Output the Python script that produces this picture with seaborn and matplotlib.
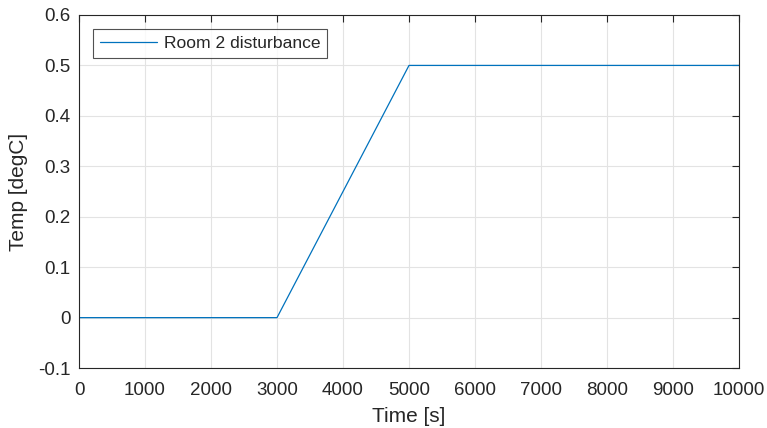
import matplotlib
matplotlib.use("Agg")
import matplotlib.pyplot as plt
import seaborn as sns
import pandas as pd

time_s = [0, 3000, 5000, 10000]
temp_degC = [0.0, 0.0, 0.5, 0.5]
series_name = "Room 2 disturbance"
xticks = [0, 1000, 2000, 3000, 4000, 5000, 6000, 7000, 8000, 9000, 10000]
yticks = [-0.1, 0, 0.1, 0.2, 0.3, 0.4, 0.5, 0.6]
ytick_labels = ["-0.1", "0", "0.1", "0.2", "0.3", "0.4", "0.5", "0.6"]

sns.set_style("white")
plt.rcParams['font.family'] = ['Liberation Sans', 'DejaVu Sans']

df = pd.DataFrame({"Time": time_s, "Temp": temp_degC, "series": series_name})

fig = plt.figure(figsize=(7.67, 4.28), dpi=100)
ax = fig.add_axes([0.103, 0.140, 0.8605, 0.825])
sns.lineplot(data=df, x="Time", y="Temp", hue="series", palette=["#0072BD"],
             linewidth=0.9, ax=ax)
ax.set_xlim(0, 10000)
ax.set_ylim(-0.1, 0.6)
ax.set_xticks(xticks)
ax.set_xticklabels([str(v) for v in xticks])
ax.set_yticks(yticks)
ax.set_yticklabels(ytick_labels)
ax.grid(True, color="#e3e3e3", linewidth=0.8)
ax.set_axisbelow(True)
for s in ax.spines.values():
    s.set_visible(True)
    s.set_color("#262626")
    s.set_linewidth(0.8)
ax.tick_params(direction="in", length=5, width=0.8, colors="#262626",
               labelsize=13.5, top=True, right=True, labeltop=False, labelright=False)
ax.tick_params(axis="x", pad=10)
ax.tick_params(axis="y", pad=6)
ax.set_xlabel("Time [s]", fontsize=15, color="#262626", labelpad=6)
ax.set_ylabel("Temp [degC]", fontsize=15, color="#262626", labelpad=7)
leg = ax.legend(loc="upper left", bbox_to_anchor=(0.021, 0.96), fontsize=12.6,
                frameon=True, fancybox=False, edgecolor="#262626",
                handlelength=3.25, handletextpad=0.4, borderpad=0.4, borderaxespad=0)
leg.get_frame().set_linewidth(0.8)
fig.savefig("out.png", dpi=100)
